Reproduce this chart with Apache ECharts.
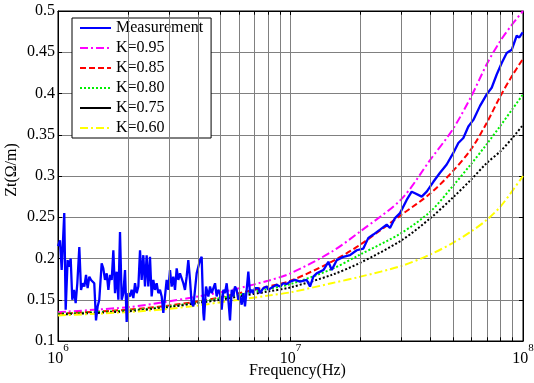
<!DOCTYPE html>
<html>
<head>
<meta charset="utf-8">
<script src="https://cdn.jsdelivr.net/npm/echarts@6/dist/echarts.min.js"></script>
<style>html,body{margin:0;padding:0;background:#fff}#c{width:534px;height:383px}</style>
</head>
<body>
<div id="c"></div>
<script>
// ---- data (frequencies in MHz) ----
const measFreqMHz = [1.000,1.020,1.037,1.064,1.079,1.100,1.115,1.134,1.152,1.172,1.191,1.211,1.235,1.256,1.277,1.298,1.320,1.341,1.364,1.387,1.410,1.432,1.457,1.481,1.505,1.541,1.566,1.593,1.620,1.647,1.674,1.702,1.730,1.759,1.788,1.818,1.848,1.879,1.910,1.942,1.974,2.007,2.040,2.074,2.109,2.144,2.180,2.216,2.253,2.290,2.328,2.367,2.406,2.446,2.487,2.528,2.570,2.613,2.657,2.701,2.746,2.792,2.838,2.885,2.933,2.982,3.032,3.082,3.133,3.186,3.239,3.293,3.347,3.403,3.460,3.517,3.576,3.635,3.696,3.757,3.820,3.948,4.081,4.149,4.218,4.246,4.331,4.433,4.507,4.582,4.658,4.736,4.814,4.894,4.976,5.058,5.143,5.228,5.315,5.403,5.493,5.585,5.677,5.772,5.868,5.965,6.065,6.166,6.268,6.372,6.478,6.586,6.695,6.807,6.920,7.035,7.152,7.271,7.391,7.639,7.896,8.027,8.161,8.435,8.719,9.012,9.315,9.627,9.951,10.46,10.99,11.74,12.13,12.54,12.96,13.85,14.55,15.04,15.80,16.88,18.03,19.26,20.57,21.62,22.71,24.27,25.92,26.79,28.15,29.58,31.60,33.21,34.32,36.67,38.53,41.16,43.96,46.96,50.16,52.71,55.39,58.21,61.17,65.34,69.80,73.34,77.07,80.99,85.10,89.43,93.94,96.45,99.70];
const measZ = [0.215,0.222,0.186,0.255,0.138,0.198,0.190,0.200,0.150,0.162,0.146,0.170,0.214,0.162,0.170,0.166,0.180,0.164,0.178,0.174,0.176,0.170,0.125,0.142,0.150,0.194,0.188,0.174,0.182,0.162,0.180,0.174,0.210,0.158,0.184,0.150,0.232,0.150,0.158,0.186,0.123,0.158,0.154,0.162,0.152,0.170,0.158,0.166,0.210,0.174,0.204,0.166,0.204,0.166,0.202,0.154,0.174,0.162,0.170,0.158,0.162,0.154,0.134,0.154,0.174,0.162,0.186,0.166,0.178,0.162,0.188,0.174,0.182,0.182,0.170,0.162,0.178,0.198,0.174,0.146,0.142,0.182,0.198,0.202,0.134,0.125,0.166,0.154,0.166,0.158,0.156,0.170,0.154,0.162,0.158,0.138,0.162,0.158,0.170,0.150,0.125,0.162,0.154,0.166,0.162,0.150,0.154,0.144,0.158,0.142,0.162,0.184,0.158,0.162,0.158,0.164,0.166,0.164,0.158,0.164,0.166,0.162,0.164,0.166,0.168,0.166,0.170,0.169,0.172,0.174,0.172,0.174,0.166,0.178,0.182,0.186,0.196,0.186,0.198,0.202,0.204,0.210,0.212,0.225,0.229,0.235,0.241,0.237,0.249,0.255,0.271,0.281,0.279,0.275,0.281,0.293,0.304,0.314,0.328,0.340,0.346,0.360,0.368,0.385,0.399,0.407,0.423,0.437,0.449,0.453,0.470,0.468,0.474];

const modelFreqMHz = [1, 2, 3, 4, 5, 6, 8, 10, 15, 20, 30, 40, 50, 60, 70, 80, 90, 100];
const k095 = [0.135,0.141,0.148,0.154,0.159,0.164,0.173,0.182,0.208,0.233,0.272,0.320,0.357,0.397,0.436,0.464,0.484,0.500];
const k085 = [0.133,0.138,0.143,0.148,0.153,0.158,0.166,0.173,0.196,0.217,0.253,0.279,0.306,0.333,0.365,0.397,0.422,0.442];
const k080 = [0.133,0.137,0.142,0.147,0.152,0.156,0.163,0.169,0.187,0.205,0.231,0.257,0.288,0.315,0.339,0.361,0.381,0.399];
const k075 = [0.132,0.136,0.141,0.146,0.150,0.154,0.160,0.165,0.180,0.195,0.222,0.249,0.274,0.296,0.316,0.330,0.346,0.362];
const k060 = [0.131,0.135,0.139,0.143,0.147,0.150,0.155,0.159,0.170,0.178,0.191,0.205,0.219,0.233,0.247,0.263,0.282,0.300];

const minorFreqMHz = [2,3,4,5,6,7,8,9,20,30,40,50,60,70,80,90];
const yTicks = [0.1,0.15,0.2,0.25,0.3,0.35,0.4,0.45,0.5];

// ---- build ----
const FONT = "'Liberation Serif','Times New Roman',serif";
const MHz = 1e6;
const pairs = (fs, vs) => fs.map((f, i) => [f * MHz, vs[i]]);

const gridLines = minorFreqMHz.map(f => ({ xAxis: f * MHz }));
const tickSegs = [];
minorFreqMHz.forEach(f => {
  tickSegs.push([{ coord: [f * MHz, 0.1], lineStyle: { color: '#000', width: 1, type: 'solid' } }, { coord: [f * MHz, 0.1045] }]);
  tickSegs.push([{ coord: [f * MHz, 0.5], lineStyle: { color: '#000', width: 1, type: 'solid' } }, { coord: [f * MHz, 0.4955] }]);
});

function modelSeries(name, vals, color, dash) {
  return {
    name, type: 'line', data: pairs(modelFreqMHz, vals), symbol: 'none', smooth: 0.3,
    lineStyle: { color, width: 2, type: dash }, itemStyle: { color }, z: 3
  };
}

const chart = echarts.init(document.getElementById('c'), null, { renderer: 'canvas' });
const axisBlack = { show: true, lineStyle: { color: '#000', width: 1 } };
const option = {
  animation: false,
  backgroundColor: '#fff',
  grid: { left: 58, right: 11, top: 11, bottom: 42, containLabel: false, outerBoundsMode: 'none',
    show: true, borderColor: '#000', borderWidth: 1 },
  xAxis: [
    {
      type: 'log', logBase: 10, min: 1e6, max: 1e8, position: 'bottom',
      axisLine: axisBlack,
      axisTick: { show: true, inside: true, length: 4, lineStyle: { color: '#000' } },
      splitLine: { show: true, lineStyle: { color: '#808080', width: 1 } },
      axisLabel: {
        margin: 2, showMinLabel: true, showMaxLabel: true,
        formatter: v => '{b|10}{e|' + Math.round(Math.log10(v)) + '}',
        rich: {
          b: { fontFamily: FONT, fontSize: 16, color: '#000', lineHeight: 24, verticalAlign: 'bottom' },
          e: { fontFamily: FONT, fontSize: 11, color: '#000', lineHeight: 24, verticalAlign: 'top' }
        }
      },
      name: 'Frequency(Hz)', nameLocation: 'middle', nameGap: 22, nameMoveOverlap: false,
      nameTextStyle: { fontFamily: FONT, fontSize: 16, color: '#000', padding: [0, 0, 0, 14] }
    },
    {
      type: 'log', logBase: 10, min: 1e6, max: 1e8, position: 'top',
      axisLine: axisBlack,
      axisTick: { show: true, inside: true, length: 4, lineStyle: { color: '#000' } },
      axisLabel: { show: false }, splitLine: { show: false }
    }
  ],
  yAxis: [
    {
      type: 'value', min: 0.1, max: 0.5, interval: 0.05,
      axisLine: axisBlack,
      axisTick: { show: true, inside: true, length: 4, lineStyle: { color: '#000' } },
      splitLine: { show: true, lineStyle: { color: '#808080', width: 1 } },
      axisLabel: { fontFamily: FONT, fontSize: 16, color: '#000', margin: 3, showMinLabel: true, showMaxLabel: true,
        formatter: v => { const t = yTicks.find(x => Math.abs(x - v) < 1e-9); return t === undefined ? '' : String(t); } },
      name: 'Zt(Ω/m)', nameLocation: 'middle', nameGap: 38, nameRotate: 90, nameMoveOverlap: false,
      nameTextStyle: { fontFamily: FONT, fontSize: 16, color: '#000', padding: [0, 0, 0, 12] }
    },
    {
      type: 'value', min: 0.1, max: 0.5, interval: 0.05, position: 'right',
      axisLine: axisBlack,
      axisTick: { show: true, inside: true, length: 4, lineStyle: { color: '#000' } },
      axisLabel: { show: false }, splitLine: { show: false }
    }
  ],
  legend: {
    left: 72, top: 18, orient: 'vertical',
    backgroundColor: '#fff', borderColor: '#000', borderWidth: 1, borderRadius: 0,
    padding: [2, 8, 2, 7], itemWidth: 31, itemHeight: 14, itemGap: 4,
    itemStyle: { opacity: 0 },
    textStyle: { fontFamily: FONT, fontSize: 16, color: '#000', lineHeight: 16 },
    data: [
      { name: 'Measurement' },
      { name: 'K=0.95' },
      { name: 'K=0.85' },
      { name: 'K=0.80' },
      { name: 'K=0.75', lineStyle: { type: 'solid' } },
      { name: 'K=0.60' }
    ],
    selectedMode: false
  },
  series: [
    {
      name: 'gridMinor', type: 'line', data: [[1e6, 0.1]], symbol: 'none', lineStyle: { opacity: 0 }, z: 1, silent: true,
      markLine: {
        silent: true, symbol: ['none', 'none'], label: { show: false }, animation: false,
        lineStyle: { color: '#808080', width: 1, type: 'solid' },
        data: gridLines.concat(tickSegs)
      }
    },
    {
      name: 'Measurement', type: 'line', data: pairs(measFreqMHz, measZ), symbol: 'none',
      lineStyle: { color: '#0000ff', width: 2.3, type: 'solid' }, itemStyle: { color: '#0000ff' }, z: 4
    },
    modelSeries('K=0.95', k095, '#ff00ff', [8, 3, 2, 3]),
    modelSeries('K=0.85', k085, '#ff0000', [6, 3]),
    modelSeries('K=0.80', k080, '#00ee00', [2, 2]),
    modelSeries('K=0.75', k075, '#000000', [2, 2]),
    modelSeries('K=0.60', k060, '#ffff00', [8, 3, 2, 3])
  ]
};
chart.setOption(option);
</script>
</body>
</html>
